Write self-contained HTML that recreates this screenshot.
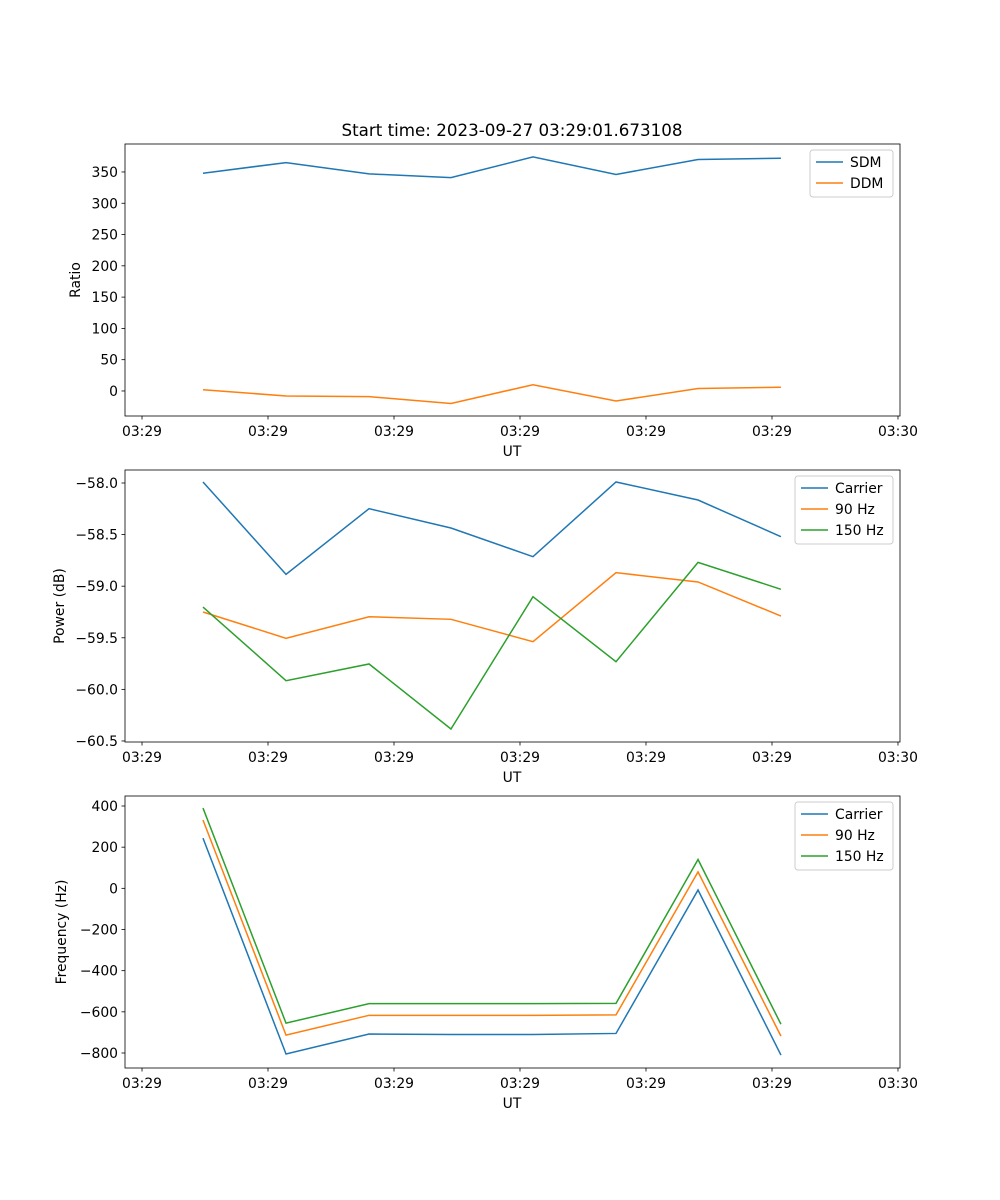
<!DOCTYPE html>
<html><head><meta charset="utf-8"><style>
body{margin:0;background:#fff}
svg{display:block;font-family:"DejaVu Sans","Liberation Sans",sans-serif}
</style></head><body>
<svg id="fig" width="1000" height="1200">
<text x="512" y="136" font-size="16.7" text-anchor="middle">Start time: 2023-09-27 03:29:01.673108</text>
</svg>
<script>
const times = [0.484, 1.143, 1.802, 2.452, 3.103, 3.762, 4.413, 5.071];
const xTicks = [0, 1, 2, 3, 4, 5, 6];
const xTickLabels = ["03:29","03:29","03:29","03:29","03:29","03:29","03:30"];
const sdm = [348, 365, 347, 341, 374, 346, 370, 372];
const ddm = [2, -8, -9, -20, 10, -16, 4, 6];
const powCarrier = [-57.99, -58.885, -58.249, -58.436, -58.714, -57.99, -58.165, -58.52];
const pow90 = [-59.25, -59.505, -59.296, -59.321, -59.538, -58.869, -58.959, -59.289];
const pow150 = [-59.202, -59.916, -59.754, -60.384, -59.102, -59.732, -58.769, -59.03];
const freqCarrier = [244, -805, -708, -710, -710, -705, -8, -810];
const freq90 = [332, -713, -617, -617, -617, -615, 80, -718];
const freq150 = [390, -655, -560, -560, -560, -559, 140, -660];
const ratioTicks = [0, 50, 100, 150, 200, 250, 300, 350];
const powerTicks = [-58.0, -58.5, -59.0, -59.5, -60.0, -60.5];
const freqTicks = [400, 200, 0, -200, -400, -600, -800];

const svg = document.getElementById('fig');
const NS = 'http://www.w3.org/2000/svg';
function mk(tag, attrs, parent){const e=document.createElementNS(NS,tag);for(const k in attrs)e.setAttribute(k,attrs[k]);(parent||svg).appendChild(e);return e;}
const L=125,R=900,xmin=-0.135,xmax=6.016;
const sx=v=>L+(v-xmin)/(xmax-xmin)*(R-L);
const C1='#1f77b4',C2='#ff7f0e',C3='#2ca02c';

function panel(name, top, ymin, ymax, yticks, fmt, ylabel, ylabX, series, legend){
  const bot=top+272;
  const sy=v=>bot-(v-ymin)/(ymax-ymin)*(bot-top);
  const g=mk('g',{});
  
  
  series.forEach(s=>{
    const p=mk('polyline',{points:s.data.map((v,i)=>sx(times[i])+','+sy(v)).join(' '),fill:'none',stroke:s.color,'stroke-width':1.5},g);
    
    
  });
  const fr=mk('rect',{x:L,y:top,width:R-L,height:bot-top,fill:'none',stroke:'#000','stroke-width':0.8},g);
  
  
  xTicks.forEach((t,i)=>{
    const x=sx(t);
    mk('line',{x1:x,x2:x,y1:bot,y2:bot+3.5,stroke:'#000','stroke-width':0.8},g);
    const tx=mk('text',{x:x,y:bot+20,'font-size':13.9,'text-anchor':'middle'},g);
    tx.textContent=xTickLabels[i];
    
    
  });
  yticks.forEach(t=>{
    const y=sy(t);
    mk('line',{x1:L-3.5,x2:L,y1:y,y2:y,stroke:'#000','stroke-width':0.8},g);
    const tx=mk('text',{x:L-7,y:y+5,'font-size':13.9,'text-anchor':'end'},g);
    tx.textContent=fmt(t);
    
    
  });
  const xl=mk('text',{x:512,y:bot+40,'font-size':13.9,'text-anchor':'middle'},g);
  xl.textContent='UT';
  
  
  const yl=mk('text',{x:ylabX,y:(top+bot)/2,'font-size':13.9,'text-anchor':'middle',transform:`rotate(-90 ${ylabX} ${(top+bot)/2})`},g);
  yl.textContent=ylabel;
  
  
  const lg=mk('g',{},g);
  
  
  mk('rect',{x:legend.x,y:top+6,width:893-legend.x,height:series.length*21+5,rx:3,fill:'#fff',stroke:'#ccc','stroke-width':1},lg);
  series.forEach((s,i)=>{
    const y=top+18+i*21;
    mk('line',{x1:legend.x+6,x2:legend.x+33,y1:y,y2:y,stroke:s.color,'stroke-width':1.5},lg);
    const t=mk('text',{x:legend.x+40,y:y+5,'font-size':13.9},lg);
    t.textContent=s.label;
    
    
  });
}
const minus=v=>String(v).replace('-','\u2212');
panel('ratio',144,-40,394.7,ratioTicks,v=>minus(v),'Ratio',80,
  [{key:'sdm',label:'SDM',color:C1,data:sdm},{key:'ddm',label:'DDM',color:C2,data:ddm}],{x:810});
panel('power',470,-60.51,-57.874,powerTicks,v=>minus(v.toFixed(1)),'Power (dB)',64,
  [{key:'carrier',label:'Carrier',color:C1,data:powCarrier},{key:'90hz',label:'90 Hz',color:C2,data:pow90},{key:'150hz',label:'150 Hz',color:C3,data:pow150}],{x:795});
panel('frequency',796,-872.9,448.6,freqTicks,v=>minus(v),'Frequency (Hz)',66,
  [{key:'carrier',label:'Carrier',color:C1,data:freqCarrier},{key:'90hz',label:'90 Hz',color:C2,data:freq90},{key:'150hz',label:'150 Hz',color:C3,data:freq150}],{x:795});
</script>
</body></html>
